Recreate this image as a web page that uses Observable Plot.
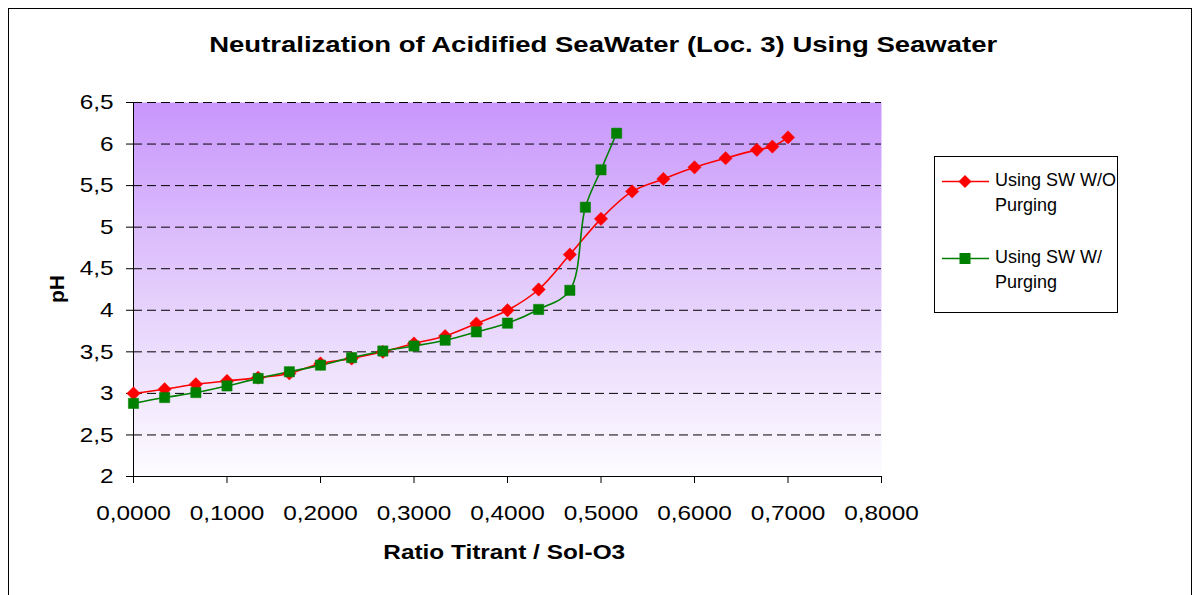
<!DOCTYPE html>
<html>
<head>
<meta charset="utf-8">
<script src="https://cdn.jsdelivr.net/npm/d3@7"></script>
<script src="https://cdn.jsdelivr.net/npm/@observablehq/plot@0.6"></script>
<style>
  html, body { margin: 0; padding: 0; background: #fff; }
  #wrap { position: relative; width: 1200px; height: 595px; overflow: hidden; font-family: "Liberation Sans", Arial, sans-serif; }
  #border { position: absolute; left: 8px; top: 8px; width: 1184px; height: 600px; border: 1px solid #000; box-sizing: border-box; }
  #title { position: absolute; left: 0; width: 1207px; top: 32px; text-align: center; font-weight: bold; font-size: 22px; color: #000; }
  #title span { display: inline-block; transform: scaleX(1.25); transform-origin: center; }
  #xlabel { position: absolute; left: 0; width: 1008px; top: 540px; text-align: center; font-weight: bold; font-size: 21px; color: #000; }
  #xlabel span { display: inline-block; transform: scaleX(1.16); transform-origin: center; }
  #ylabel { position: absolute; left: 57px; top: 289px; transform: translate(-50%, -50%) rotate(-90deg); font-weight: bold; font-size: 21px; color: #000; white-space: nowrap; }
  #legend { position: absolute; left: 934px; top: 156px; width: 184px; height: 157px; border: 1px solid #000; box-sizing: border-box; background: #fff; }
  .item { position: absolute; left: 6px; font-size: 18px; line-height: 25px; color: #000; }
  .item svg { position: absolute; left: 0; top: 0px; }
  .item span { position: absolute; left: 54px; top: -1px; white-space: nowrap; }
  #chart { position: absolute; left: 0; top: 0; }
</style>
</head>
<body>
<div id="wrap">
  <div id="chart"></div>
  <div id="border"></div>
  <div id="title"></div>
  <div id="xlabel"></div>
  <div id="ylabel"></div>
  <div id="legend"></div>
</div>
<script>
const titleText = "Neutralization of Acidified SeaWater (Loc. 3) Using Seawater";
const xLabel = "Ratio Titrant / Sol-O3";
const yLabel = "pH";
const seriesNames = ["Using SW W/O Purging", "Using SW W/ Purging"];
const seriesColors = ["#ff0000", "#008000"];

const ratioNoPurge = [0, 0.0333, 0.0667, 0.1, 0.1333, 0.1667, 0.2, 0.2333, 0.2667, 0.3, 0.3333, 0.3667, 0.4, 0.4333, 0.4667, 0.5, 0.5333, 0.5667, 0.6, 0.6333, 0.6667, 0.6833, 0.7];
const phNoPurge = [3.00, 3.05, 3.11, 3.15, 3.19, 3.24, 3.36, 3.42, 3.50, 3.60, 3.69, 3.84, 4.00, 4.25, 4.67, 5.10, 5.43, 5.58, 5.72, 5.83, 5.93, 5.97, 6.08];

const ratioPurge = [0, 0.0333, 0.0667, 0.1, 0.1333, 0.1667, 0.2, 0.2333, 0.2667, 0.3, 0.3333, 0.3667, 0.4, 0.4333, 0.4667, 0.4833, 0.5, 0.5167];
const phPurge = [2.88, 2.95, 3.01, 3.09, 3.18, 3.26, 3.34, 3.43, 3.51, 3.57, 3.64, 3.74, 3.845, 4.01, 4.24, 5.24, 5.69, 6.13];

const xTicks = [0, 0.1, 0.2, 0.3, 0.4, 0.5, 0.6, 0.7, 0.8];
const yTicks = [2, 2.5, 3, 3.5, 4, 4.5, 5, 5.5, 6, 6.5];

const data = [
  ...ratioNoPurge.map((x, i) => ({x, y: phNoPurge[i], s: seriesNames[0]})),
  ...ratioPurge.map((x, i) => ({x, y: phPurge[i], s: seriesNames[1]}))
];
const noPurge = data.filter(d => d.s === seriesNames[0]);
const purge = data.filter(d => d.s === seriesNames[1]);

const fmtX = d => d.toFixed(4).replace(".", ",");
const fmtY = d => String(d).replace(".", ",");

const chart = Plot.plot({
  width: 1200,
  height: 595,
  marginLeft: 133,
  marginRight: 319,
  marginTop: 102,
  marginBottom: 119,
  style: {fontFamily: "Liberation Sans, Arial, sans-serif", fontSize: "21px", color: "#000", background: "transparent", overflow: "visible"},
  x: {domain: [0, 0.8], label: null},
  y: {domain: [2, 6.5], label: null},
  marks: [
    Plot.frame({fill: "url(#bgGrad)", stroke: null}),
    Plot.ruleY(yTicks.filter(v => v > 2), {stroke: "#000", strokeWidth: 1, strokeDasharray: "9,5"}),
    Plot.ruleY([2], {stroke: "#000"}),
    Plot.ruleX([0], {stroke: "#000"}),
    Plot.axisX({ticks: xTicks, tickFormat: fmtX, tickSize: 7, tickPadding: 22, stroke: "#000", fontSize: 21, label: null}),
    Plot.axisY({ticks: yTicks, tickFormat: fmtY, tickSize: 7, tickPadding: 13, stroke: "#000", fontSize: 21, label: null}),
    Plot.line(noPurge, {x: "x", y: "y", stroke: seriesColors[0], strokeWidth: 1.6, curve: "catmull-rom"}),
    Plot.line(purge, {x: "x", y: "y", stroke: seriesColors[1], strokeWidth: 1.6, curve: "catmull-rom"}),
    Plot.dot(noPurge, {x: "x", y: "y", symbol: "diamond2", r: 6, fill: seriesColors[0], stroke: seriesColors[0], strokeWidth: 0.5}),
    Plot.dot(purge, {x: "x", y: "y", symbol: "square", r: 5.8, fill: seriesColors[1], stroke: seriesColors[1], strokeWidth: 0.5})
  ]
});

// horizontal stretch of tick label text, as in the reference rendering
function stretch(sel, sx) {
  chart.querySelectorAll(sel).forEach(t => {
    const tr = t.getAttribute("transform") || "";
    t.setAttribute("transform", `${tr} scale(${sx},1)`);
  });
}
stretch('g[aria-label="x-axis tick label"] text', 1.16);
stretch('g[aria-label="y-axis tick label"] text', 1.16);

// gradient definition for plot background
const ns = "http://www.w3.org/2000/svg";
const defs = document.createElementNS(ns, "defs");
defs.innerHTML = '<linearGradient id="bgGrad" x1="0" y1="0" x2="0" y2="1">' +
  '<stop offset="0" stop-color="#c896fc"/>' +
  '<stop offset="0.55" stop-color="#e6d2fc"/>' +
  '<stop offset="1" stop-color="#fdfcff"/></linearGradient>';
chart.insertBefore(defs, chart.firstChild);
document.getElementById("chart").appendChild(chart);

function spanText(id, txt) {
  const s = document.createElement("span");
  s.textContent = txt;
  document.getElementById(id).appendChild(s);
}
spanText("title", titleText);
spanText("xlabel", xLabel);
document.getElementById("ylabel").textContent = yLabel;

// legend
const legend = document.getElementById("legend");
const legendLines = [["Using SW W/O", "Purging"], ["Using SW W/", "Purging"]];
const legendSymbols = ["diamond", "square"];
legendLines.forEach((lines, i) => {
  const item = document.createElement("div");
  item.className = "item";
  item.style.top = (12 + i * 77) + "px";
  item.style.height = "50px";
  item.style.width = "175px";
  const c = seriesColors[i];
  const sym = legendSymbols[i] === "diamond"
    ? `<path d="M24,6 L30.5,12.5 L24,19 L17.5,12.5 Z" fill="${c}"/>`
    : `<rect x="18.5" y="7" width="11" height="11" fill="${c}"/>`;
  item.innerHTML = `<svg width="50" height="26"><line x1="1" x2="48" y1="12.5" y2="12.5" stroke="${c}" stroke-width="1.6"/>${sym}</svg>` +
    `<span>${lines[0]}</span><span style="top:24px">${lines[1]}</span>`;
  legend.appendChild(item);
});
</script>
</body>
</html>
